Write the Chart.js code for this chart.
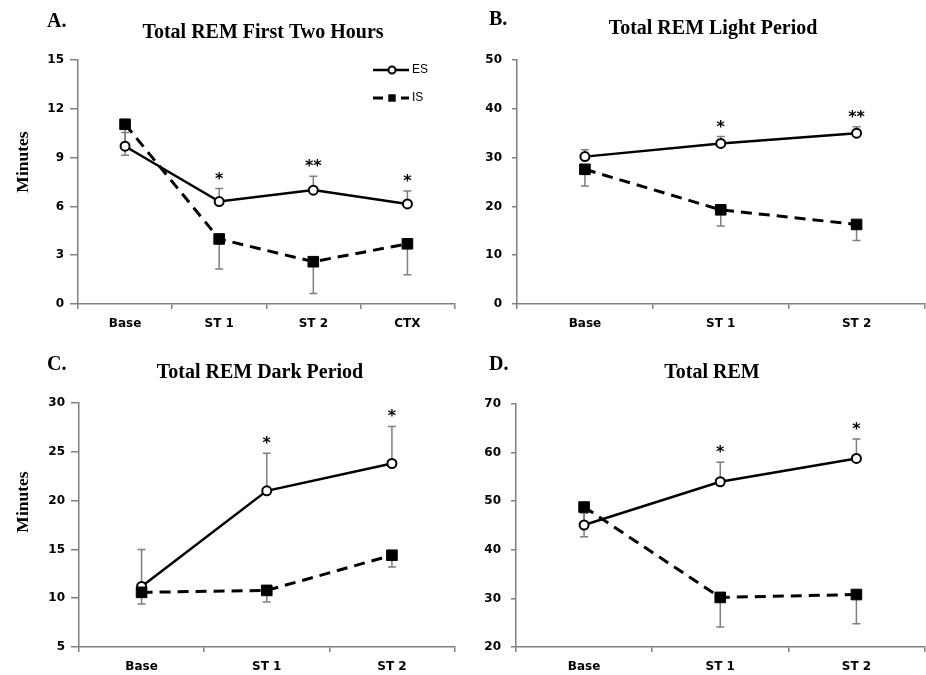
<!DOCTYPE html>
<html><head><meta charset="utf-8">
<script src="https://cdn.jsdelivr.net/npm/chart.js@4/dist/chart.umd.min.js"></script>
<style>
html,body{margin:0;padding:0;background:#fff;overflow:hidden;width:926px;height:675px;position:relative}
canvas{position:absolute;display:block}
</style></head><body>
<canvas id="cA"></canvas>
<canvas id="cB"></canvas>
<canvas id="cC"></canvas>
<canvas id="cD"></canvas>
<script>
// ---------- data ----------
const catsA = ['Base', 'ST 1', 'ST 2', 'CTX'];
const catsBCD = ['Base', 'ST 1', 'ST 2'];

const yTicksA = [0, 3, 6, 9, 12, 15];
const yTicksB = [0, 10, 20, 30, 40, 50];
const yTicksC = [5, 10, 15, 20, 25, 30];
const yTicksD = [20, 30, 40, 50, 60, 70];

const esA = [9.7, 6.3, 7.0, 6.15];
const esSemA = [0.85, 0.8, 0.85, 0.8];
const isA = [11.05, 4.0, 2.6, 3.7];
const isSemA = [1.9, 1.85, 1.95, 1.9];
const starsA = ['', '*', '**', '*'];

const esB = [30.2, 32.9, 35.0];
const esSemB = [1.4, 1.4, 1.3];
const isB = [27.6, 19.3, 16.3];
const isSemB = [3.4, 3.3, 3.3];
const starsB = ['', '*', '**'];

const esC = [11.2, 21.0, 23.8];
const esSemC = [3.8, 3.85, 3.8];
const isC = [10.6, 10.8, 14.4];
const isSemC = [1.2, 1.2, 1.2];
const starsC = ['', '*', '*'];

const esD = [45.1, 54.0, 58.8];
const esSemD = [2.4, 4.0, 4.0];
const isD = [48.8, 30.2, 30.8];
const isSemD = [6.1, 6.1, 6.0];
const starsD = ['', '*', '*'];

const titles = ['Total REM First Two Hours', 'Total REM Light Period', 'Total REM Dark Period', 'Total REM'];
const letters = ['A.', 'B.', 'C.', 'D.'];
const yLabel = 'Minutes';
const seriesNames = ['ES', 'IS'];

// ---------- drawing helpers ----------
const AXIS_COLOR = '#808080';
const TICK_FONT = {family: '"DejaVu Sans", sans-serif', size: 12, weight: 'bold'};

const panelPlugin = {
  id: 'panel',
  beforeDatasetsDraw(chart, args, o) {
    const {ctx} = chart, x = chart.scales.x, y = chart.scales.y;
    ctx.save();
    ctx.strokeStyle = '#7f7f7f';
    ctx.lineWidth = 1.5;
    o.errors.forEach(e => {
      e.values.forEach((v, i) => {
        const px = x.getPixelForValue(i);
        const p0 = y.getPixelForValue(v);
        const p1 = y.getPixelForValue(v + e.dir * e.sem[i]);
        ctx.beginPath();
        ctx.moveTo(px, p0); ctx.lineTo(px, p1);
        ctx.moveTo(px - 4, p1); ctx.lineTo(px + 4, p1);
        ctx.stroke();
      });
    });
    ctx.restore();
  },
  afterDraw(chart, args, o) {
    const {ctx} = chart, x = chart.scales.x, y = chart.scales.y;
    ctx.save();
    // stars
    ctx.fillStyle = '#000';
    ctx.font = 'bold 16px "DejaVu Sans", sans-serif';
    ctx.textAlign = 'center';
    ctx.textBaseline = 'alphabetic';
    o.stars.forEach((s, i) => {
      if (!s) return;
      const top = y.getPixelForValue(o.starBase[i] + o.starSem[i]);
      ctx.fillText(s, x.getPixelForValue(i), top - 5);
    });
    // title
    ctx.font = 'bold 20px "Liberation Serif", "Times New Roman", serif';
    ctx.textAlign = 'center';
    ctx.fillText(o.title, o.titleX, o.titleY);
    // letter
    ctx.textAlign = 'left';
    ctx.fillText(o.letter, o.letterX, o.letterY);
    // y label
    if (o.yLabel) {
      ctx.save();
      ctx.translate(o.yLabelX, o.yLabelY);
      ctx.rotate(-Math.PI / 2);
      ctx.font = 'bold 17.5px "Liberation Serif", "Times New Roman", serif';
      ctx.textAlign = 'center';
      ctx.textBaseline = 'middle';
      ctx.fillText(o.yLabel, 0, 0);
      ctx.restore();
    }
    // legend
    if (o.legend) {
      const L = o.legend;
      ctx.strokeStyle = '#000';
      ctx.lineWidth = 2.5;
      ctx.beginPath(); ctx.moveTo(L.x0, L.y1); ctx.lineTo(L.x1, L.y1); ctx.stroke();
      ctx.beginPath(); ctx.arc(L.xm, L.y1, 3.5, 0, Math.PI * 2);
      ctx.fillStyle = '#fff'; ctx.fill(); ctx.lineWidth = 2; ctx.stroke();
      ctx.lineWidth = 3;
      ctx.beginPath(); ctx.moveTo(L.x0, L.y2); ctx.lineTo(L.x0 + 10, L.y2);
      ctx.moveTo(L.x1 - 8, L.y2); ctx.lineTo(L.x1, L.y2); ctx.stroke();
      ctx.fillStyle = '#000';
      ctx.fillRect(L.xm - 3.7, L.y2 - 3.7, 7.4, 7.4);
      ctx.font = '12px "Liberation Sans Narrow", "Liberation Sans", sans-serif';
      ctx.textAlign = 'left'; ctx.textBaseline = 'middle';
      ctx.fillText(seriesNames[0], L.x1 + 3, L.y1);
      ctx.fillText(seriesNames[1], L.x1 + 3, L.y2);
    }
    ctx.restore();
  }
};

function makePanel(id, pos, area, cats, yTicks, es, esSem, is, isSem, stars, extra, tickCfg) {
  const cv = document.getElementById(id);
  cv.width = pos.w; cv.height = pos.h;
  cv.style.left = pos.l + 'px'; cv.style.top = pos.t + 'px';
  cv.style.width = pos.w + 'px'; cv.style.height = pos.h + 'px';
  return new Chart(cv, {
    type: 'line',
    data: {
      labels: cats,
      datasets: [
        {label: seriesNames[1], data: is, order: 0, borderColor: '#000', borderWidth: 3,
         borderDash: [11, 7], pointStyle: 'rect', pointRadius: 7.5, pointBackgroundColor: '#000',
         pointBorderColor: '#000', pointBorderWidth: 1, tension: 0, fill: false},
        {label: seriesNames[0], data: es, order: 1, borderColor: '#000', borderWidth: 2.5,
         pointStyle: 'circle', pointRadius: 4.5, pointBackgroundColor: '#fff',
         pointBorderColor: '#000', pointBorderWidth: 2, tension: 0, fill: false}
      ]
    },
    options: {
      responsive: false, animation: false, events: [],
      layout: {padding: {top: area.top, right: pos.w - area.right, left: 0, bottom: 0}},
      plugins: {
        legend: {display: false}, tooltip: {enabled: false}, title: {display: false},
        panel: Object.assign({
          errors: [{values: es, sem: esSem, dir: 1}, {values: is, sem: isSem, dir: -1}],
          stars: stars, starBase: es, starSem: esSem
        }, extra)
      },
      scales: {
        x: {
          type: 'category', offset: true,
          grid: {display: true, drawOnChartArea: false, offset: true, tickLength: 5, color: AXIS_COLOR, lineWidth: 1.5},
          border: {display: true, color: AXIS_COLOR, width: 1.5},
          ticks: {font: TICK_FONT, color: '#000', padding: 8, maxRotation: 0, autoSkip: false},
          afterFit: s => { s.height = pos.h - area.bottom; }
        },
        y: {
          min: yTicks[0], max: yTicks[yTicks.length - 1],
          ticks: {stepSize: yTicks[1] - yTicks[0], font: TICK_FONT, color: '#000', padding: tickCfg.pad},
          grid: {display: true, drawOnChartArea: false, tickLength: tickCfg.len, color: AXIS_COLOR, lineWidth: 1.5},
          border: {display: true, color: AXIS_COLOR, width: 1.5},
          afterFit: s => { s.width = area.left; }
        }
      }
    },
    plugins: [panelPlugin]
  });
}

makePanel('cA', {l: 0, t: 0, w: 463, h: 330}, {left: 78, top: 60, right: 455, bottom: 304},
  catsA, yTicksA, esA, esSemA, isA, isSemA, starsA,
  {title: titles[0], titleX: 263, titleY: 38, letter: letters[0], letterX: 47, letterY: 27,
   yLabel: yLabel, yLabelX: 23, yLabelY: 162,
   legend: {x0: 373, x1: 409, xm: 392, y1: 70, y2: 98}},
  {len: 8, pad: 6});

makePanel('cB', {l: 463, t: 0, w: 470, h: 330}, {left: 54, top: 60, right: 467, bottom: 304},
  catsBCD, yTicksB, esB, esSemB, isB, isSemB, starsB,
  {title: titles[1], titleX: 250, titleY: 34, letter: letters[1], letterX: 26, letterY: 25},
  {len: 5, pad: 10});

makePanel('cC', {l: 0, t: 330, w: 463, h: 345}, {left: 79, top: 73, right: 456, bottom: 317},
  catsBCD, yTicksC, esC, esSemC, isC, isSemC, starsC,
  {title: titles[2], titleX: 260, titleY: 48, letter: letters[2], letterX: 47, letterY: 40,
   yLabel: yLabel, yLabelX: 23, yLabelY: 172},
  {len: 8, pad: 6});

makePanel('cD', {l: 463, t: 330, w: 470, h: 345}, {left: 53, top: 74, right: 467, bottom: 317},
  catsBCD, yTicksD, esD, esSemD, isD, isSemD, starsD,
  {title: titles[3], titleX: 249, titleY: 48, letter: letters[3], letterX: 26, letterY: 40},
  {len: 5, pad: 10});
</script>
</body></html>
